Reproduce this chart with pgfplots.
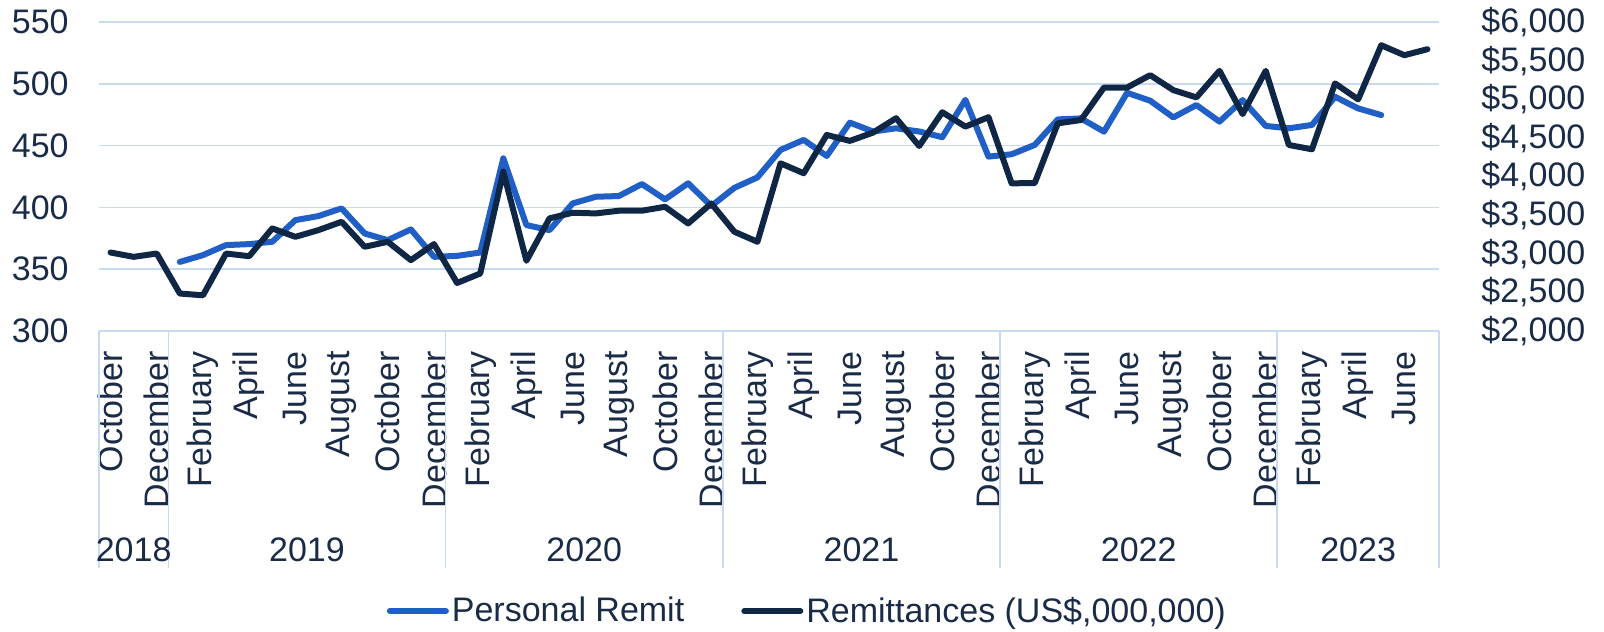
\documentclass[border=0pt]{standalone}
\usepackage{fontspec}
\setmainfont{Liberation Sans}
\usepackage{pgfplots}
\pgfplotsset{compat=1.18}
\definecolor{blueL}{HTML}{1F5FC6}
\definecolor{navy}{HTML}{0F2645}
\definecolor{textc}{HTML}{1A2B47}
\definecolor{gridc}{HTML}{C8D9F2}
\newcommand{\lblfont}{\fontsize{17}{20}\selectfont}
\begin{document}
\begin{tikzpicture}
\path[use as bounding box] (-49.5pt,-150pt) rectangle (752.5pt,165.5pt);
\pgfplotsset{
  common/.style={width=670pt,height=154.5pt,scale only axis,
    xmin=-0.5,xmax=57.5,clip=false,
    major tick length=0pt, tick style={draw=none}, axis line style={draw=none},
    every tick label/.append style={font=\lblfont, text=textc},
    /pgf/number format/assume math mode=true},
}
\begin{axis}[common,
  ymin=300,ymax=550,ytick={300,350,...,550},
  ymajorgrids, major grid style={gridc, line width=0.8pt},
  yticklabel style={anchor=east, inner sep=0pt, xshift=-15pt},
  xtick={0,2,...,56},
  xticklabels={October,December,
    February,April,June,August,October,December,
    February,April,June,August,October,December,
    February,April,June,August,October,December,
    February,April,June,August,October,December,
    February,April,June},
  xticklabel style={yshift=-10pt, rotate=90, anchor=east, inner sep=0pt},
]
\pgfplotsinvokeforeach{-0.5,2.5,14.5,26.5,38.5,50.5,57.5}{
  \draw[gridc, line width=0.8pt] (axis cs:#1,300) -- ([yshift=-118.5pt]axis cs:#1,300);
}
\node[font=\lblfont, text=textc] at ([yshift=-109.5pt]axis cs:1,300) {2018};
\node[font=\lblfont, text=textc] at ([yshift=-109.5pt]axis cs:8.5,300) {2019};
\node[font=\lblfont, text=textc] at ([yshift=-109.5pt]axis cs:20.5,300) {2020};
\node[font=\lblfont, text=textc] at ([yshift=-109.5pt]axis cs:32.5,300) {2021};
\node[font=\lblfont, text=textc] at ([yshift=-109.5pt]axis cs:44.5,300) {2022};
\node[font=\lblfont, text=textc] at ([yshift=-109.5pt]axis cs:54,300) {2023};
\addplot[blueL, line width=3pt, line join=round, line cap=round] coordinates {
(3,355.9) (4,361.4) (5,369.5) (6,370.3) (7,372.2) (8,389.7) (9,393.0) (10,399.2)
(11,378.9) (12,373.5) (13,382.2) (14,360.0) (15,360.8) (16,363.5) (17,439.7)
(18,385.7) (19,381.6) (20,403.2) (21,408.6) (22,409.2) (23,418.9) (24,406.5)
(25,419.5) (26,401.1) (27,415.8) (28,424.3) (29,446.5) (30,454.6) (31,441.6)
(32,468.6) (33,461.4) (34,464.0) (35,461.4) (36,456.8) (37,487.0) (38,441.1)
(39,443.0) (40,450.5) (41,471.2) (42,472.0) (43,461.3) (44,492.7) (45,486.3)
(46,472.8) (47,482.8) (48,469.4) (49,486.8) (50,465.9) (51,464.0) (52,466.7)
(53,489.5) (54,480.1) (55,474.7)
};
\end{axis}
\begin{axis}[common,
  ymin=2000,ymax=6000,ytick={2000,2500,...,6000},
  axis y line*=right, axis x line=none,
  yticklabel style={anchor=west, inner sep=0pt, xshift=21pt},
  yticklabel={\$\pgfmathprintnumber[1000 sep={,}]{\tick}},
  legend style={at={(0.529,0)}, anchor=center, yshift=-140pt, draw=none, fill=none,
    legend columns=2, font=\lblfont, nodes={text=textc, inner sep=1.5pt},
    /tikz/every even column/.append style={column sep=27pt}},
  legend cell align=left,
  legend image code/.code={\draw[#1] (0pt,0pt) -- (28pt,0pt);},
]
\addlegendimage{blueL, line width=3pt, line cap=round}
\addlegendentry{Personal Remit}
\addplot[navy, line width=3pt, line join=round, line cap=round] coordinates {
(0,3016) (1,2960) (2,3003) (3,2485) (4,2462) (5,3003) (6,2968) (7,3328) (8,3219)
(9,3306) (10,3414) (11,3090) (12,3155) (13,2917) (14,3125) (15,2622) (16,2744)
(17,4062) (18,2909) (19,3458) (20,3531) (21,3522) (22,3557) (23,3557) (24,3608)
(25,3392) (26,3651) (27,3285) (28,3155) (29,4171) (30,4042) (31,4538) (32,4461)
(33,4568) (34,4755) (35,4395) (36,4832) (37,4646) (38,4768) (39,3912) (40,3914)
(41,4688) (42,4731) (43,5152) (44,5152) (45,5312) (46,5118) (47,5024) (48,5368)
(49,4808) (50,5368) (51,4408) (52,4352) (53,5205) (54,4998) (55,5699) (56,5570)
(57,5648)
};
\addlegendentry{Remittances (US\$,000,000)}
\end{axis}
\end{tikzpicture}
\end{document}
